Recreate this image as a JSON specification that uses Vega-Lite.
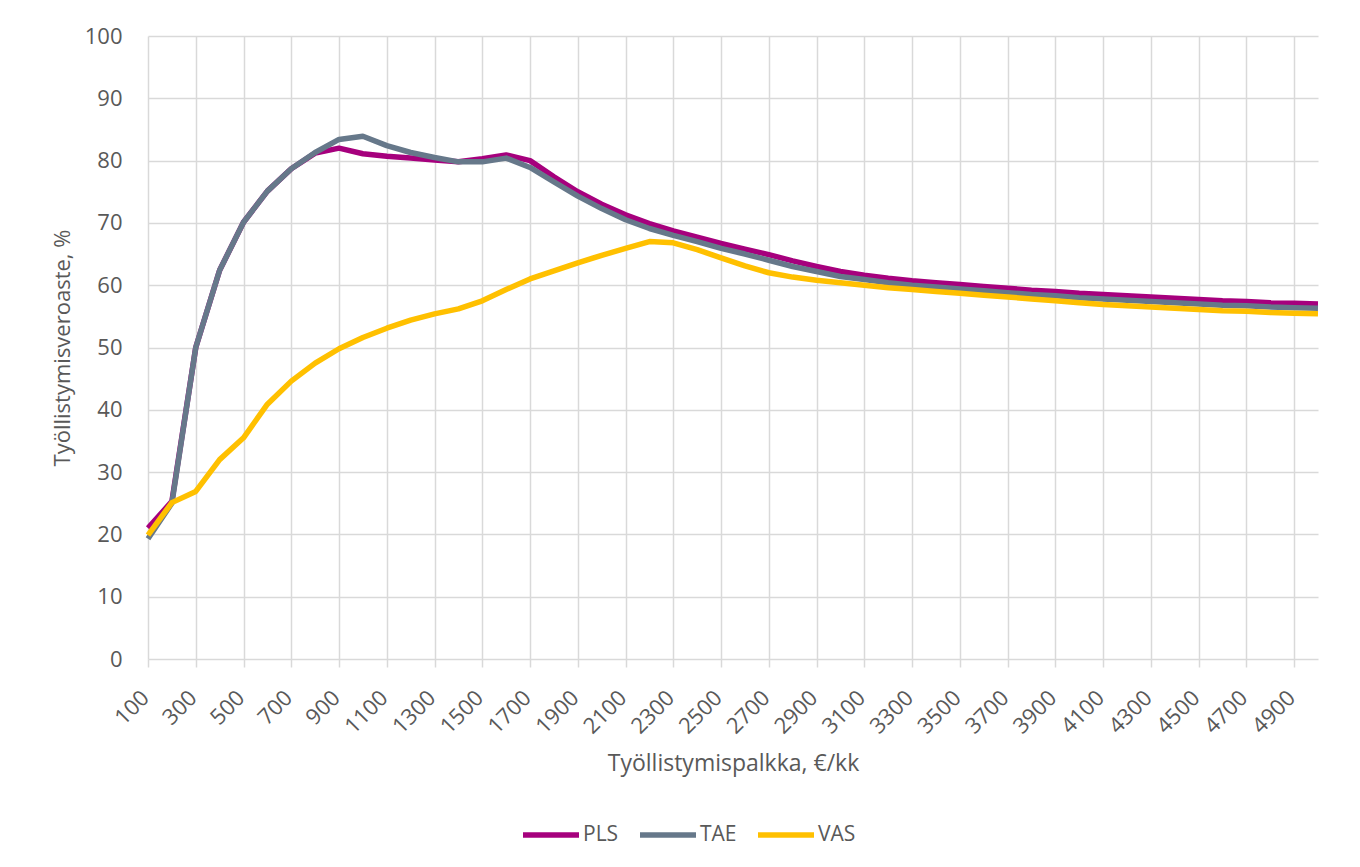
{
  "$schema": "https://vega.github.io/schema/vega-lite/v6.json",
  "width": 1170,
  "height": 623,
  "autosize": {"type": "none"},
  "padding": {"left": 148, "top": 36, "right": 42, "bottom": 208},
  "background": "white",
  "config": {"font": "Open Sans", "view": {"stroke": null}},
  "data": {"values": [
    {"x":100,"PLS":21.0,"TAE":19.3,"VAS":19.9},
    {"x":200,"PLS":25.3,"TAE":25.0,"VAS":25.1},
    {"x":300,"PLS":50.0,"TAE":50.0,"VAS":26.9},
    {"x":400,"PLS":62.4,"TAE":62.4,"VAS":32.0},
    {"x":500,"PLS":70.1,"TAE":70.1,"VAS":35.5},
    {"x":600,"PLS":75.1,"TAE":75.1,"VAS":40.9},
    {"x":700,"PLS":78.7,"TAE":78.7,"VAS":44.6},
    {"x":800,"PLS":81.2,"TAE":81.3,"VAS":47.5},
    {"x":900,"PLS":82.0,"TAE":83.4,"VAS":49.8},
    {"x":1000,"PLS":81.1,"TAE":83.9,"VAS":51.6},
    {"x":1100,"PLS":80.7,"TAE":82.4,"VAS":53.1},
    {"x":1200,"PLS":80.4,"TAE":81.3,"VAS":54.4},
    {"x":1300,"PLS":80.1,"TAE":80.5,"VAS":55.4},
    {"x":1400,"PLS":79.8,"TAE":79.8,"VAS":56.2},
    {"x":1500,"PLS":80.3,"TAE":79.8,"VAS":57.5},
    {"x":1600,"PLS":80.9,"TAE":80.4,"VAS":59.3},
    {"x":1700,"PLS":80.0,"TAE":78.9,"VAS":61.0},
    {"x":1800,"PLS":77.4,"TAE":76.6,"VAS":62.3},
    {"x":1900,"PLS":75.0,"TAE":74.3,"VAS":63.6},
    {"x":2000,"PLS":73.0,"TAE":72.3,"VAS":64.8},
    {"x":2100,"PLS":71.3,"TAE":70.5,"VAS":65.9},
    {"x":2200,"PLS":69.9,"TAE":69.1,"VAS":67.0},
    {"x":2300,"PLS":68.7,"TAE":68.0,"VAS":66.8},
    {"x":2400,"PLS":67.7,"TAE":67.0,"VAS":65.7},
    {"x":2500,"PLS":66.7,"TAE":65.9,"VAS":64.4},
    {"x":2600,"PLS":65.8,"TAE":65.0,"VAS":63.1},
    {"x":2700,"PLS":64.9,"TAE":64.0,"VAS":62.0},
    {"x":2800,"PLS":63.9,"TAE":63.0,"VAS":61.3},
    {"x":2900,"PLS":63.0,"TAE":62.2,"VAS":60.8},
    {"x":3000,"PLS":62.2,"TAE":61.4,"VAS":60.4},
    {"x":3100,"PLS":61.6,"TAE":60.9,"VAS":60.0},
    {"x":3200,"PLS":61.1,"TAE":60.4,"VAS":59.6},
    {"x":3300,"PLS":60.7,"TAE":60.0,"VAS":59.3},
    {"x":3400,"PLS":60.4,"TAE":59.7,"VAS":59.0},
    {"x":3500,"PLS":60.1,"TAE":59.4,"VAS":58.7},
    {"x":3600,"PLS":59.8,"TAE":59.1,"VAS":58.4},
    {"x":3700,"PLS":59.5,"TAE":58.8,"VAS":58.1},
    {"x":3800,"PLS":59.2,"TAE":58.5,"VAS":57.8},
    {"x":3900,"PLS":59.0,"TAE":58.3,"VAS":57.5},
    {"x":4000,"PLS":58.7,"TAE":58.0,"VAS":57.2},
    {"x":4100,"PLS":58.5,"TAE":57.8,"VAS":56.9},
    {"x":4200,"PLS":58.3,"TAE":57.6,"VAS":56.7},
    {"x":4300,"PLS":58.1,"TAE":57.4,"VAS":56.5},
    {"x":4400,"PLS":57.9,"TAE":57.2,"VAS":56.3},
    {"x":4500,"PLS":57.7,"TAE":57.0,"VAS":56.1},
    {"x":4600,"PLS":57.5,"TAE":56.8,"VAS":55.9},
    {"x":4700,"PLS":57.4,"TAE":56.7,"VAS":55.8},
    {"x":4800,"PLS":57.2,"TAE":56.5,"VAS":55.6},
    {"x":4900,"PLS":57.1,"TAE":56.4,"VAS":55.5},
    {"x":5000,"PLS":57.0,"TAE":56.3,"VAS":55.4}
  ]},
  "transform": [{"fold": ["PLS", "TAE", "VAS"], "as": ["sarja", "arvo"]}],
  "mark": {"type": "line", "strokeWidth": 5.5, "strokeJoin": "round"},
  "encoding": {
    "x": {
      "field": "x", "type": "quantitative",
      "scale": {"domain": [100, 5000], "nice": false, "zero": false},
      "axis": {
        "values": [100,300,500,700,900,1100,1300,1500,1700,1900,2100,2300,2500,2700,2900,3100,3300,3500,3700,3900,4100,4300,4500,4700,4900],
        "format": "d",
        "title": "Työllistymispalkka, €/kk",
        "labelAngle": -45, "labelAlign": "right", "labelBaseline": "middle",
        "labelPadding": 27, "labelOffset": -3, "labelFlush": false, "labelOverlap": false,
        "labelFontSize": 22, "labelColor": "#595959",
        "grid": true, "gridColor": "#D9D9D9", "gridWidth": 1.5,
        "ticks": true, "tickColor": "#D9D9D9", "tickSize": 8, "tickWidth": 1.5,
        "domain": false,
        "titleFontSize": 23, "titleColor": "#595959", "titleFontWeight": "normal",
        "titleBaseline": "middle", "titleY": 104
      }
    },
    "y": {
      "field": "arvo", "type": "quantitative",
      "scale": {"domain": [0, 100], "nice": false},
      "axis": {
        "values": [0,10,20,30,40,50,60,70,80,90,100],
        "title": "Työllistymisveroaste, %",
        "labelFontSize": 22, "labelColor": "#595959", "labelPadding": 26,
        "grid": true, "gridColor": "#D9D9D9", "gridWidth": 1.5,
        "ticks": false, "domain": false,
        "titleFontSize": 22, "titleColor": "#595959", "titleFontWeight": "normal",
        "titleAlign": "center", "titleBaseline": "middle", "titleX": -86, "titleY": 311.5
      }
    },
    "color": {
      "field": "sarja", "type": "nominal",
      "scale": {"domain": ["PLS", "TAE", "VAS"], "range": ["#A6007D", "#66788A", "#FFC000"]},
      "legend": {
        "title": null, "orient": "none", "direction": "horizontal",
        "legendX": 372, "legendY": 768,
        "symbolType": "stroke", "symbolSize": 3136, "symbolStrokeWidth": 5.5,
        "labelFontSize": 21, "labelColor": "#595959", "labelOffset": 1,
        "columnPadding": 10
      }
    }
  }
}
